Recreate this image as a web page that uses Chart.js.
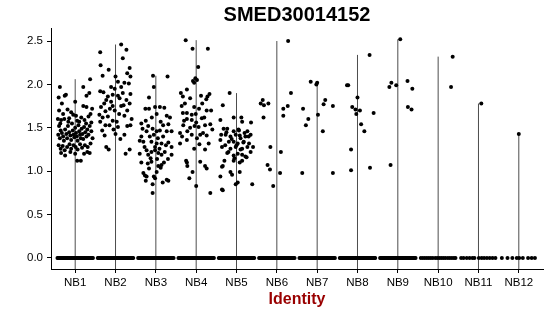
<!DOCTYPE html>
<html>
<head>
<meta charset="utf-8">
<title>SMED30014152</title>
<script src="https://cdn.jsdelivr.net/npm/chart.js@4.4.1/dist/chart.umd.min.js"></script>
<style>
  body { margin: 0; background: #fff; }
  #wrap { width: 550px; height: 316px; }
</style>
</head>
<body>
<div id="wrap"><canvas id="vln" width="550" height="316"></canvas></div>
<script>
// Groups on the x axis
const groups = ['NB1', 'NB2', 'NB3', 'NB4', 'NB5', 'NB6', 'NB7', 'NB8', 'NB9', 'NB10', 'NB11', 'NB12'];
const yTicks = [0, 0.5, 1.0, 1.5, 2.0, 2.5];

// Non-zero cells per group: [jitter, expression]
const nb1 = [[-0.38,1.97],[-0.41,1.85],[-0.26,1.87],[-0.23,1.88],[-0.33,1.78],[0.37,2.06],[0.20,1.97],[0.28,1.87],[0.35,1.90],[0.00,1.80],[0.20,1.75],[0.28,1.74],[-0.19,1.71],[-0.05,1.65],[0.02,1.64],[-0.35,1.59],[-0.27,1.60],[-0.15,1.61],[0.10,1.57],[0.23,1.59],[0.33,1.63],
  [-0.40,1.52],[-0.36,1.47],[-0.42,1.42],[-0.38,1.38],[-0.33,1.44],[-0.30,1.40],[-0.28,1.35],[-0.25,1.48],[-0.22,1.43],[-0.20,1.38],[-0.18,1.52],[-0.15,1.45],[-0.12,1.41],[-0.10,1.36],[-0.08,1.55],[-0.06,1.47],[-0.04,1.42],[-0.02,1.39],[0.00,1.50],[0.02,1.44],[0.04,1.40],[0.06,1.35],[0.08,1.53],[0.10,1.46],[0.12,1.42],[0.14,1.38],[0.16,1.49],[0.18,1.43],[0.20,1.37],[0.22,1.51],[0.25,1.45],[0.28,1.40],[0.30,1.48],[0.33,1.42],[0.36,1.52],[0.40,1.46],[0.43,1.38],
  [-0.41,1.30],[-0.36,1.26],[-0.31,1.29],[-0.26,1.24],[-0.20,1.28],[-0.14,1.31],[-0.10,1.26],[-0.04,1.30],[0.01,1.28],[0.06,1.25],[0.12,1.31],[0.17,1.27],[0.24,1.30],[0.31,1.28],[0.38,1.32],
  [-0.35,1.21],[-0.25,1.18],[-0.12,1.22],[0.00,1.20],[0.05,1.12],[0.14,1.12],[0.22,1.20],[0.30,1.22],[0.36,1.21],
  [-0.37,1.55],[-0.17,1.57],[0.05,1.58],[0.27,1.55],[0.40,1.56],[-0.43,1.60],[0.15,1.62],[-0.30,1.66],[0.38,1.66],[-0.10,1.68],[0.42,1.72],[-0.40,1.70]];
const nb2 = [[-0.38,2.37],[-0.37,2.22],[-0.17,2.17],[0.14,2.46],[0.27,2.40],[0.18,2.30],[0.35,2.19],[-0.32,2.10],[0.00,2.09],[0.29,2.13],[0.37,2.09],[0.06,2.03],[0.22,2.02],[0.33,2.01],[-0.38,1.92],[-0.30,1.91],[-0.11,1.97],[-0.02,1.95],[0.14,1.97],[0.18,1.90],[0.37,1.89],[-0.19,1.86],[-0.07,1.88],[0.06,1.87],[-0.23,1.82],[-0.11,1.80],[0.27,1.82],[-0.07,1.75],[0.14,1.75],[0.20,1.76],[0.35,1.78],[-0.36,1.74],[-0.25,1.69],[-0.02,1.70],[0.29,1.70],[-0.40,1.65],[-0.32,1.62],[-0.19,1.63],[0.22,1.64],[-0.38,1.57],[-0.07,1.58],[0.03,1.57],[-0.25,1.53],[-0.15,1.53],[0.06,1.51],[0.29,1.52],[0.37,1.53],[-0.27,1.41],[0.00,1.43],[0.22,1.42],[-0.23,1.28],[-0.17,1.25],[0.35,1.25],[0.25,1.20],
  [-0.28,1.78],[0.10,1.84],[-0.14,1.72],[0.09,1.66],[0.40,1.60],[-0.05,1.48],[0.12,1.37],[-0.33,1.47]];
const nb3 = [[-0.07,2.10],[0.29,2.09],[-0.05,1.97],[-0.17,1.85],[-0.26,1.72],[-0.17,1.72],[-0.02,1.74],[0.10,1.74],[0.21,1.73],[0.02,1.66],[0.27,1.64],[0.35,1.62],[-0.36,1.55],[-0.19,1.52],[-0.08,1.49],[0.18,1.53],[0.31,1.54],[-0.33,1.49],[-0.23,1.46],[0.02,1.46],[0.10,1.47],[0.27,1.46],[0.39,1.46],[-0.36,1.40],[-0.15,1.40],[-0.05,1.42],[0.18,1.40],[-0.31,1.34],[-0.11,1.34],[0.02,1.32],[0.14,1.32],[0.31,1.33],[0.39,1.28],[-0.23,1.24],[-0.11,1.22],[-0.02,1.24],[0.06,1.21],[0.22,1.22],[-0.19,1.19],[0.14,1.19],[-0.40,1.20],[0.39,1.19],
  [-0.31,0.98],[-0.27,0.95],[-0.23,0.94],[-0.25,0.89],[-0.17,1.03],[-0.08,0.85],[-0.08,0.75],[-0.05,0.94],[-0.02,0.92],[0.02,0.99],[0.06,1.06],[0.12,1.04],[0.14,1.07],[0.17,0.87],[0.27,0.90],[0.31,0.89],[-0.11,1.11],[-0.36,1.10],[-0.20,1.09],[0.20,1.10],
  [-0.28,1.28],[-0.02,1.28],[0.09,1.26],[0.25,1.30],[-0.40,1.35],[0.05,1.38],[-0.13,1.15],[0.03,1.14],[0.30,1.14],[-0.25,1.58],[0.12,1.57],[-0.10,1.62]];
const nb4 = [[-0.26,2.51],[-0.09,2.41],[0.29,2.41],[0.05,2.20],[-0.02,2.07],[0.02,2.05],[-0.08,2.04],[-0.05,2.02],[-0.38,1.90],[-0.23,1.94],[-0.15,1.84],[-0.33,1.86],[0.12,1.87],[0.28,1.86],[0.33,1.89],[0.25,1.83],[-0.36,1.75],[-0.05,1.74],[0.07,1.72],[0.26,1.70],[-0.33,1.67],[-0.23,1.67],[-0.11,1.65],[-0.01,1.66],[0.37,1.70],[0.14,1.61],[-0.23,1.60],[-0.11,1.59],[-0.32,1.53],[-0.04,1.52],[0.06,1.51],[0.22,1.53],[0.35,1.54],[-0.40,1.44],[-0.22,1.46],[-0.11,1.42],[0.17,1.44],[0.26,1.41],[0.02,1.38],[0.10,1.42],[0.31,1.32],[0.08,1.31],[-0.23,1.36],[-0.40,1.32],[-0.05,1.26],
  [-0.23,1.10],[-0.22,1.06],[-0.17,0.92],[-0.09,0.99],[0.00,0.83],[0.22,1.06],[0.26,1.03],[0.35,0.75],[-0.25,1.12],[0.10,1.11],
  [-0.30,1.58],[0.20,1.62],[0.40,1.48],[-0.15,1.50],[0.15,1.78],[-0.28,1.78],[0.00,1.56],[-0.35,1.40],[0.22,1.25]];
const nb5 = [[-0.17,1.90],[-0.34,1.76],[-0.40,1.59],[-0.07,1.62],[0.12,1.62],[0.14,1.57],[0.36,1.56],[-0.32,1.49],[-0.23,1.49],[-0.07,1.46],[0.06,1.47],[0.27,1.46],[0.35,1.42],[-0.38,1.42],[-0.27,1.42],[-0.15,1.40],[-0.02,1.42],[0.10,1.38],[0.22,1.40],[-0.40,1.36],[-0.19,1.34],[-0.07,1.34],[0.03,1.32],[0.18,1.34],[0.31,1.32],[-0.36,1.28],[-0.15,1.26],[-0.02,1.28],[0.14,1.26],[0.27,1.28],[-0.23,1.21],[-0.07,1.18],[0.03,1.20],[0.14,1.19],[0.22,1.17],[0.35,1.22],[0.41,1.28],
  [-0.36,1.05],[-0.34,1.06],[-0.40,0.94],[-0.36,0.79],[-0.34,0.78],[-0.15,0.99],[-0.11,0.96],[-0.02,0.85],[0.03,0.87],[0.08,0.99],[-0.07,1.12],[0.14,1.12],[0.39,0.85],[0.08,1.10],
  [-0.28,1.30],[-0.12,1.37],[0.08,1.41],[0.20,1.44],[-0.20,1.22],[0.10,1.25],[0.25,1.16],[-0.05,1.15],[0.30,1.40],[-0.30,1.12],[0.00,1.30],[0.17,1.33],[-0.25,1.45],[0.05,1.48]];
const nb6 = [[0.28,2.50],[-0.40,1.78],[-0.35,1.82],[-0.32,1.76],[-0.21,1.78],[0.35,1.90],[0.16,1.72],[0.27,1.75],[-0.33,1.62],[0.16,1.64],[-0.16,1.28],[0.10,1.22],[-0.23,1.07],[-0.17,1.02],[0.08,0.98],[-0.09,0.83]];
const nb7 = [[-0.16,2.03],[0.00,2.02],[-0.02,2.00],[0.20,1.82],[0.16,1.77],[0.39,1.75],[-0.35,1.72],[0.02,1.65],[-0.22,1.60],[-0.28,1.53],[0.14,1.46],[-0.37,0.98],[0.39,0.98]];
const nb8 = [[0.30,2.34],[-0.26,1.99],[-0.23,1.99],[0.00,1.85],[-0.13,1.74],[-0.05,1.71],[0.06,1.70],[-0.03,1.66],[0.40,1.67],[0.09,1.54],[0.17,1.46],[-0.16,1.25],[-0.16,1.01],[0.31,1.04]];
const nb9 = [[0.06,2.52],[-0.21,1.97],[-0.16,2.02],[-0.04,1.99],[0.24,2.04],[0.36,1.95],[0.25,1.74],[0.34,1.71],[-0.18,1.07]];
const nb10 = [[0.36,2.32],[0.32,1.97]];
const nb11 = [[0.07,1.78]];
const nb12 = [[0.00,1.43]];
const cells = [nb1, nb2, nb3, nb4, nb5, nb6, nb7, nb8, nb9, nb10, nb11, nb12];

// Jitter of the zero cells (solid bars for big groups, sparse for small ones)
const zeroDense = [-0.44,-0.42,-0.40,-0.38,-0.36,-0.34,-0.32,-0.30,-0.28,-0.26,-0.24,-0.22,-0.20,-0.18,-0.16,-0.14,-0.12,-0.10,-0.08,-0.06,-0.04,-0.02,0.00,
  0.02,0.04,0.06,0.08,0.10,0.12,0.14,0.16,0.18,0.20,0.22,0.24,0.26,0.28,0.30,0.32,0.34,0.36,0.38,0.40,0.42,0.44];
const zeroNB10 = [-0.43,-0.38,-0.33,-0.28,-0.23,-0.18,-0.13,-0.07,-0.02,0.03,0.08,0.13,0.18,0.24,0.29,0.34,0.39,0.43];
const zeroNB11 = [-0.43,-0.37,-0.29,-0.22,-0.15,-0.10,0.01,0.08,0.14,0.21,0.28,0.35,0.42];
const zeroNB12 = [-0.42,-0.28,-0.16,-0.05,0.01,0.10,0.23,0.32,0.40];
const zeros = [zeroDense, zeroDense, zeroDense, zeroDense, zeroDense, zeroDense, zeroDense, zeroDense, zeroDense, zeroNB10, zeroNB11, zeroNB12];

const Y_MIN = -0.127, Y_MAX = 2.65;

const datasets = [];
// violins collapse to thin lines (zero-inflated), drawn first
groups.forEach((g, i) => {
  const top = Math.max(...cells[i].map(p => p[1]));
  datasets.push({
    type: 'line',
    data: [{ x: i + 1, y: Y_MIN }, { x: i + 1, y: top }],
    borderColor: '#4d4d4d',
    borderWidth: 1,
    pointRadius: 0,
    order: 2
  });
});

const pts = [];
groups.forEach((g, i) => {
  zeros[i].forEach(dx => pts.push({ x: i + 1 + dx, y: 0 }));
  cells[i].forEach(p => pts.push({ x: i + 1 + p[0], y: p[1] }));
});
datasets.push({
  type: 'scatter',
  data: pts,
  backgroundColor: '#000',
  borderWidth: 0,
  pointRadius: 2,
  pointHoverRadius: 2,
  order: 1
});

const tickFont = { family: 'Liberation Sans', size: 11.5 };

new Chart(document.getElementById('vln').getContext('2d'), {
  type: 'scatter',
  data: { datasets: datasets },
  options: {
    responsive: false,
    animation: false,
    devicePixelRatio: 1,
    layout: { padding: { left: 0, right: 7, top: 0, bottom: 0 } },
    plugins: {
      legend: { display: false },
      tooltip: { enabled: false },
      title: {
        display: true,
        text: 'SMED30014152',
        color: '#000',
        fullSize: false,
        font: { family: 'Liberation Sans', size: 20, weight: 'bold', lineHeight: 1.2 },
        padding: { top: 3, bottom: 1 }
      }
    },
    scales: {
      x: {
        type: 'linear',
        min: 0.4,
        max: 12.6,
        afterBuildTicks: s => { s.ticks = groups.map((g, i) => ({ value: i + 1 })); },
        afterFit: s => { s.height = 47; },
        ticks: {
          autoSkip: false,
          maxRotation: 0,
          color: '#000',
          font: tickFont,
          padding: 3,
          callback: v => groups[Math.round(v) - 1]
        },
        grid: { display: true, drawOnChartArea: false, drawTicks: true, tickLength: 4, color: '#000' },
        border: { display: true, color: '#000', width: 1 },
        title: {
          display: true,
          text: 'Identity',
          color: '#990000',
          font: { family: 'Liberation Sans', size: 16, weight: 'bold', lineHeight: 1.2 },
          padding: { top: 0, bottom: 7 }
        }
      },
      y: {
        min: Y_MIN,
        max: Y_MAX,
        afterBuildTicks: s => { s.ticks = yTicks.map(v => ({ value: v })); },
        afterFit: s => { s.width = 51; },
        ticks: {
          color: '#000',
          font: tickFont,
          padding: 4,
          callback: v => Number(v).toFixed(1)
        },
        grid: { display: true, drawOnChartArea: false, drawTicks: true, tickLength: 4, color: '#000' },
        border: { display: true, color: '#000', width: 1 }
      }
    }
  }
});
</script>
</body>
</html>
